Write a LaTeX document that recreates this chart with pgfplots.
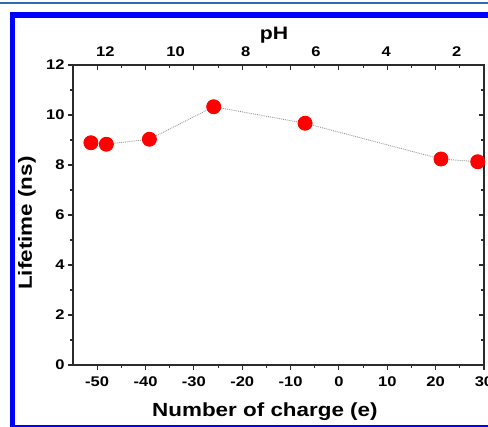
\documentclass[border=0pt]{standalone}
\usepackage{fontspec}
\setmainfont{Liberation Sans}[FakeStretch=1.18]
\usepackage{pgfplots}
\pgfplotsset{compat=1.18}
\definecolor{frameBlue}{HTML}{0000FF}
\definecolor{rule}{HTML}{2E6DB4}
\definecolor{axisGray}{HTML}{2B2B2B}

\newcommand{\tickfont}{\fontsize{14}{14}\selectfont\bfseries}
\newcommand{\labfont}{\fontsize{19}{19}\selectfont\bfseries}

\pgfplotsset{
  base/.style={
    at={(73pt,-365pt)}, anchor=south west,
    scale only axis, width=411pt, height=300pt,
    xmin=-55, xmax=30, ymin=0, ymax=12,
    axis line style={axisGray, line width=1.3pt},
    major tick length=5pt, minor tick length=3pt,
    every tick/.style={axisGray, line width=1.1pt},
    xtick={-50,-40,...,30}, minor x tick num=1,
    ytick={0,2,...,12}, minor y tick num=1,
  }
}

\begin{document}
\begin{tikzpicture}[x=1pt,y=1pt]
% mirrored ticks on top and right, pointing in
\begin{axis}[base,
    xtick pos=top, ytick pos=right, tick align=inside,
    xticklabels={}, yticklabels={}]
\end{axis}

% main axis
\begin{axis}[base,
    xtick pos=bottom, ytick pos=left, tick align=outside,
    xticklabels={-50,-40,-30,-20,-10,0,10,20,30},
    yticklabels={0,2,4,6,8,10,12},
    ticklabel style={font=\tickfont},
    xticklabel style={yshift=-3pt},
    xlabel={Number of charge (e)},
    ylabel={Lifetime (ns)},
    label style={font=\labfont},
    xlabel style={at={(axis description cs:0.467,0)}, anchor=base, yshift=-52pt},
    ylabel style={at={(axis description cs:0,0.473)}, anchor=center, yshift=46pt},
]
  \addplot[color=gray!80, densely dotted, line width=0.9pt,
           mark=*, mark size=7pt, mark options={solid, fill=red, draw=red}]
  coordinates {
    (-51.3,8.89) (-48.1,8.83) (-39.2,9.03) (-25.9,10.33)
    (-7.0,9.67) (21.1,8.24) (28.7,8.13)};
\end{axis}

% pH scale on top
\begin{axis}[
    at={(73pt,-365pt)}, anchor=south west,
    scale only axis, width=411pt, height=300pt,
    xmin=1.22, xmax=12.92, x dir=reverse,
    ymin=0, ymax=12,
    hide y axis, axis line style={draw=none},
    xtick pos=top, xticklabel pos=top,
    xtick={2,4,...,12}, major tick length=0pt,
    xticklabels={2,4,6,8,10,12},
    ticklabel style={font=\tickfont},
    xticklabel style={yshift=5pt},
    xlabel={pH},
    xlabel style={font=\fontsize{18}{18}\selectfont\bfseries,
                  at={(axis description cs:0.489,1)}, anchor=base, yshift=25pt},
]
\end{axis}

% publication frame
\draw[rule, line width=2pt] (0,-3) -- (488,-3);
\draw[frameBlue, line width=5.5pt] (12.5,-15) rectangle (520,-427.5);

\pgfresetboundingbox
\path[use as bounding box] (0,0) rectangle (488,-427);
\end{tikzpicture}
\end{document}
